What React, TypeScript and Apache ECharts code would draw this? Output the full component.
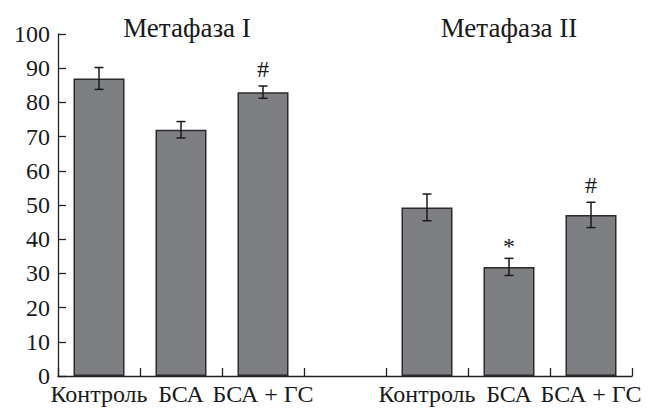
import React, { useEffect, useRef } from "react";
import * as echarts from "echarts";

const categories = ["Контроль", "БСА", "БСА + ГС", "", "Контроль", "БСА", "БСА + ГС"];
const values: (number | null)[] = [87, 72, 83, null, 49.3, 31.9, 47.1];
const errors: (number | null)[] = [3.2, 2.4, 1.8, null, 3.9, 2.5, 3.7];
const marks = ["", "", "#", "", "", "*", "#"];
const panelTitles = ["Метафаза I", "Метафаза II"];
const yTicks = { min: 0, max: 100, interval: 10 };

const FONT = "'Liberation Serif', 'DejaVu Serif', serif";
const TEXT = "#1a1a1a";

export default function App() {
  const ref = useRef<HTMLDivElement>(null);
  useEffect(() => {
    if (!ref.current) return;
    const chart = echarts.init(ref.current, null, { renderer: "svg" });
    const errData = values
      .map((v, i) => (v == null || errors[i] == null ? null : [i, v - (errors[i] as number), v + (errors[i] as number)]))
      .filter((d) => d != null);
    chart.setOption({
      animation: false,
      grid: { left: 58, right: 16, top: 34, bottom: 32, containLabel: false },
      xAxis: {
        type: "category",
        data: categories,
        boundaryGap: true,
        axisLine: { show: true, lineStyle: { color: "#222", width: 1.3 } },
        axisTick: { show: true, inside: true, length: 8, lineStyle: { color: "#222", width: 1.3 } },
        axisLabel: { color: TEXT, fontFamily: FONT, fontSize: 24, margin: 6, interval: 0 },
      },
      yAxis: {
        type: "value",
        min: yTicks.min,
        max: yTicks.max,
        interval: yTicks.interval,
        splitLine: { show: false },
        axisLine: { show: true, lineStyle: { color: "#222", width: 1.3 } },
        axisTick: { show: true, inside: true, length: 8, lineStyle: { color: "#222", width: 1.3 } },
        axisLabel: { color: TEXT, fontFamily: FONT, fontSize: 24, margin: 8 },
      },
      graphic: [
        { type: "text", x: 187, y: 28, style: { text: panelTitles[0], font: `27px ${FONT}`, fill: TEXT, textAlign: "center", textVerticalAlign: "middle" } },
        { type: "text", x: 509, y: 28, style: { text: panelTitles[1], font: `27px ${FONT}`, fill: TEXT, textAlign: "center", textVerticalAlign: "middle" } },
      ],
      series: [
        {
          type: "bar",
          data: values.map((v) => (v == null ? "-" : v)),
          barWidth: 51,
          itemStyle: { color: "#7e7f83", borderColor: "#2b2b2b", borderWidth: 1.5 },
        },
        {
          type: "custom",
          data: errData,
          encode: { x: 0, y: [1, 2] },
          z: 5,
          renderItem: (params: any, api: any) => {
            const i = api.value(0);
            const lo = api.coord([i, api.value(1)]);
            const hi = api.coord([i, api.value(2)]);
            const x = hi[0];
            const cap = 4.5;
            const ls = { stroke: "#1a1a1a", lineWidth: 1.5 };
            const children: any[] = [
              { type: "line", shape: { x1: x, y1: hi[1], x2: x, y2: lo[1] }, style: ls },
              { type: "line", shape: { x1: x - cap, y1: hi[1], x2: x + cap, y2: hi[1] }, style: ls },
              { type: "line", shape: { x1: x - cap, y1: lo[1], x2: x + cap, y2: lo[1] }, style: ls },
            ];
            const m = marks[i];
            if (m) {
              children.push({
                type: "text",
                x: x,
                y: hi[1] - (m === "*" ? 0 : 5),
                style: { text: m, font: `24px ${FONT}`, fill: TEXT, textAlign: "center", textVerticalAlign: "bottom" },
              });
            }
            return { type: "group", children };
          },
        },
      ],
    });
    return () => chart.dispose();
  }, []);
  return <div ref={ref} style={{ width: 648, height: 408, position: "absolute", left: 0, top: 0 }} />;
}
